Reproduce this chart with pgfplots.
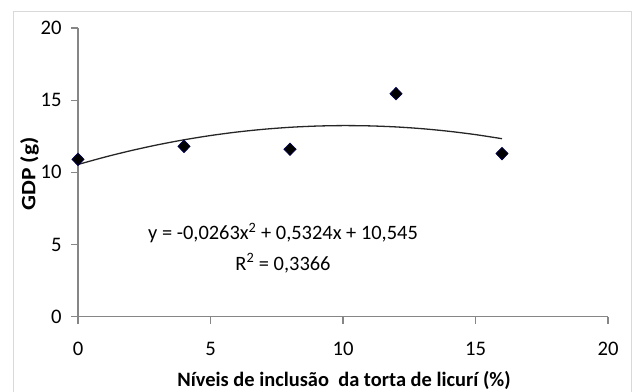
\documentclass[border=0pt]{standalone}
\usepackage{fontspec}
\setmainfont{Carlito}
\usepackage{pgfplots}
\pgfplotsset{compat=1.18}
\definecolor{axgray}{RGB}{134,134,134}
\begin{document}
\begin{tikzpicture}
\path[use as bounding box] (0bp,0bp) rectangle (632bp,392bp);
\draw[black!15, line width=1bp] (13bp,-3bp) rectangle (631bp,380bp);
\begin{axis}[
  at={(78bp,75.3bp)}, anchor=south west, scale only axis,
  width=530bp, height=288.7bp,
  xmin=0, xmax=20, ymin=0, ymax=20,
  axis lines*=left,
  axis line style={axgray, line width=1.2bp},
  tick style={axgray, line width=1.2bp},
  major tick length=7bp, tick align=outside,
  xtick={0,5,10,15,20}, ytick={0,5,10,15,20},
  /pgf/number format/assume math mode=true,
  xticklabel style={font=\huge, anchor=north, yshift=-15bp},
  yticklabel style={font=\huge, anchor=east, xshift=-6bp},
  clip=false,
]
\addplot[black!85, line width=1.3bp, smooth] coordinates {
(0,10.545) (1,11.051) (2,11.505) (3,11.906) (4,12.254) (5,12.550)
(6,12.793) (7,12.983) (8,13.121) (9,13.206) (10,13.239) (11,13.219)
(12,13.147) (13,13.022) (14,12.844) (15,12.614) (16,12.331)};
\addplot[only marks, mark=diamond*, mark size=6.3bp,
  mark options={fill=black, draw=blue!35!black, line width=0.6bp, xscale=1.3}]
  coordinates {(0,10.9) (4,11.8) (8,11.6) (12,15.45) (16,11.3)};
\end{axis}
\node at (283bp,159bp) {\fontsize{20.5}{24}\selectfont y = -0,0263x\textsuperscript{2} + 0,5324x + 10,545};
\node at (283bp,129bp) {\fontsize{20.5}{24}\selectfont R\textsuperscript{2} = 0,3366};
\node at (344bp,12bp) {\bfseries\fontsize{20.5}{24}\selectfont Níveis de inclusão\ \ da torta de licurí (\%)};
\node[rotate=90, xscale=1.15] at (29.5bp,218bp) {\bfseries\fontsize{20.5}{24}\selectfont GDP (g)};
\end{tikzpicture}
\end{document}
